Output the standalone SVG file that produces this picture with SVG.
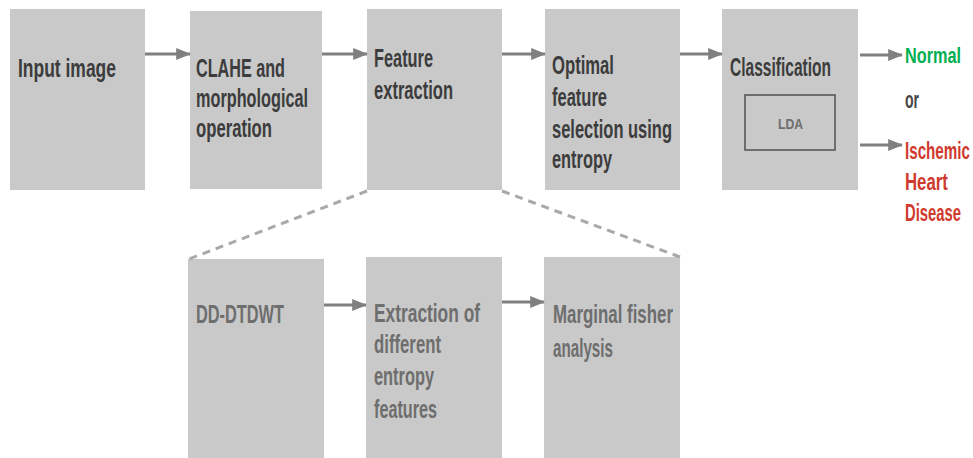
<svg xmlns="http://www.w3.org/2000/svg" width="973" height="458" viewBox="0 0 973 458">
<style>
.box{fill:#c9c9c9}
.t{font-family:"Liberation Sans",Arial,sans-serif;font-weight:bold;font-size:25px;fill:#3c3c3c}
.g{fill:#6e6e6e}
.o{font-size:23px}
.red{fill:#d0392d}
.c{stroke:#808080;stroke-width:3;fill:none}
.d{stroke:#a9a9a9;stroke-width:3;fill:none;stroke-dasharray:8 6}
</style>
<defs>
<marker id="ah" markerWidth="5" markerHeight="4" refX="4.6" refY="2" orient="auto" markerUnits="strokeWidth">
<path d="M0,0 L5,2 L0,4 Z" fill="#808080"/>
</marker>
</defs>
<rect width="973" height="458" fill="#ffffff"/>

<g id="input">
<rect class="box" x="10" y="9" width="135" height="181"/>
<text class="t" x="18" y="77" textLength="98" lengthAdjust="spacingAndGlyphs">Input  image</text>
</g>
<g id="clahe">
<rect class="box" x="190" y="11" width="132" height="178"/>
<text class="t" x="196" y="77" textLength="89" lengthAdjust="spacingAndGlyphs">CLAHE  and</text>
<text class="t" x="196" y="107" textLength="112" lengthAdjust="spacingAndGlyphs">morphological</text>
<text class="t" x="196" y="137" textLength="76" lengthAdjust="spacingAndGlyphs">operation</text>
</g>
<g id="feature">
<rect class="box" x="367" y="9" width="135" height="181"/>
<text class="t" x="374" y="67" textLength="59" lengthAdjust="spacingAndGlyphs">Feature</text>
<text class="t" x="374" y="99" textLength="79" lengthAdjust="spacingAndGlyphs">extraction</text>
</g>
<g id="optimal">
<rect class="box" x="545" y="9" width="135" height="181"/>
<text class="t" x="552" y="74" textLength="62" lengthAdjust="spacingAndGlyphs">Optimal</text>
<text class="t" x="552" y="106" textLength="55" lengthAdjust="spacingAndGlyphs">feature</text>
<text class="t" x="552" y="138" textLength="120" lengthAdjust="spacingAndGlyphs">selection  using</text>
<text class="t" x="552" y="168" textLength="60" lengthAdjust="spacingAndGlyphs">entropy</text>
</g>
<g id="classification">
<rect class="box" x="722" y="9" width="136" height="181"/>
<text class="t" x="730" y="76" textLength="101" lengthAdjust="spacingAndGlyphs">Classification</text>
<rect x="745" y="95" width="90" height="55" fill="none" stroke="#505050" stroke-width="1.5"/>
<text class="t g" x="778" y="129" style="font-size:15px" textLength="25" lengthAdjust="spacingAndGlyphs">LDA</text>
</g>
<g id="normal">
<text class="t o" transform="translate(905,63) scale(0.707,1)" style="fill:#00b050">Normal</text>
</g>
<g id="or">
<text class="t o" transform="translate(905,108) scale(0.61,1)" style="fill:#444444">or</text>
</g>
<g id="ischemic">
<text class="t o red" transform="translate(905,159) scale(0.66,1)">Ischemic</text>
<text class="t o red" transform="translate(905,190) scale(0.73,1)">Heart</text>
<text class="t o red" transform="translate(905,221) scale(0.644,1)">Disease</text>
</g>
<g id="dddtdwt">
<rect class="box" x="188" y="259" width="136" height="199"/>
<text class="t g" x="196" y="323" textLength="88" lengthAdjust="spacingAndGlyphs">DD-DTDWT</text>
</g>
<g id="entropyfeat">
<rect class="box" x="366" y="257" width="136" height="201"/>
<text class="t g" x="374" y="322" textLength="106" lengthAdjust="spacingAndGlyphs">Extraction  of</text>
<text class="t g" x="374" y="353" textLength="67" lengthAdjust="spacingAndGlyphs">different</text>
<text class="t g" x="374" y="385" textLength="60" lengthAdjust="spacingAndGlyphs">entropy</text>
<text class="t g" x="374" y="418" textLength="63" lengthAdjust="spacingAndGlyphs">features</text>
</g>
<g id="fisher">
<rect class="box" x="544" y="257" width="136" height="201"/>
<text class="t g" x="553" y="323" textLength="120" lengthAdjust="spacingAndGlyphs">Marginal  fisher</text>
<text class="t g" x="553" y="357" textLength="60" lengthAdjust="spacingAndGlyphs">analysis</text>
</g>

<g id="connectors">
<line class="c" x1="145" y1="54" x2="190" y2="54" marker-end="url(#ah)"/>
<line class="c" x1="322" y1="54" x2="367" y2="54" marker-end="url(#ah)"/>
<line class="c" x1="502" y1="54" x2="545" y2="54" marker-end="url(#ah)"/>
<line class="c" x1="680" y1="54" x2="722" y2="54" marker-end="url(#ah)"/>
<line class="c" x1="860" y1="55" x2="902" y2="55" marker-end="url(#ah)"/>
<line class="c" x1="860" y1="145" x2="902" y2="145" marker-end="url(#ah)"/>
<line class="c" x1="324" y1="305" x2="366" y2="305" marker-end="url(#ah)"/>
<line class="c" x1="502" y1="302" x2="544" y2="302" marker-end="url(#ah)"/>
<line class="d" x1="367" y1="191" x2="189" y2="259"/>
<line class="d" x1="502" y1="191" x2="680" y2="257"/>
</g>
</svg>
